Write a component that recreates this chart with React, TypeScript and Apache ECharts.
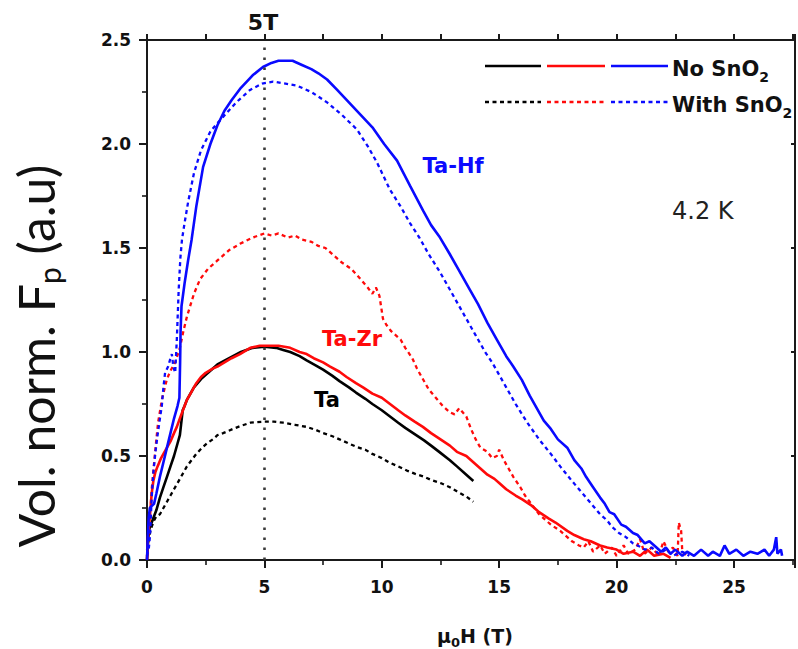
import React, { useEffect, useRef } from 'react';
import * as echarts from 'echarts';

// x-axis tick labels and y tick labels
const xTickValues = [0, 5, 10, 15, 20, 25];
const yTickValues = [0, 0.5, 1.0, 1.5, 2.0, 2.5];

// Ta-Hf, no SnO2 (solid blue)
const hfNo: number[][] = [
  [0, 0], [0.03, 0.1], [0.07, 0.2], [0.12, 0.25], [0.2, 0.26], [0.3, 0.27], [0.4, 0.32], [0.55, 0.4], [0.7, 0.47], [0.85, 0.54],
  [1.0, 0.61], [1.15, 0.68], [1.3, 0.74], [1.38, 0.78], [1.41, 0.95], [1.43, 1.1], [1.47, 1.22], [1.6, 1.33], [1.75, 1.44], [1.9, 1.54],
  [2.1, 1.7], [2.39, 1.89], [2.7, 2.0], [3.0, 2.09], [3.3, 2.16], [3.6, 2.21], [4.0, 2.27], [4.5, 2.33], [4.94, 2.37], [5.3, 2.39],
  [5.6, 2.4], [6.2, 2.4], [6.6, 2.38], [7.0, 2.36], [7.3, 2.34], [7.67, 2.31], [8.1, 2.26], [8.6, 2.2], [9.1, 2.14], [9.6, 2.08],
  [10.1, 2.0], [10.65, 1.92], [11.2, 1.8], [11.76, 1.68], [12.1, 1.61], [12.48, 1.55], [12.9, 1.47], [13.3, 1.39], [13.7, 1.31], [14.1, 1.23],
  [14.5, 1.14], [14.9, 1.06], [15.3, 0.98], [15.6, 0.93], [15.97, 0.865], [16.3, 0.79], [16.6, 0.73], [16.9, 0.67], [17.2, 0.63], [17.5, 0.58],
  [17.9, 0.54], [18.2, 0.48], [18.5, 0.44], [18.7, 0.4], [19.0, 0.35], [19.3, 0.3], [19.5, 0.27], [19.7, 0.23], [19.9, 0.22], [20.2, 0.17],
  [20.4, 0.16], [20.7, 0.13], [20.9, 0.12], [21.2, 0.08], [21.4, 0.09], [21.7, 0.06], [21.9, 0.04], [22.1, 0.06], [22.3, 0.03], [22.5, 0.05],
  [22.8, 0.02], [23.0, 0.04], [23.3, 0.02], [23.6, 0.05], [23.9, 0.02], [24.1, 0.04], [24.4, 0.02], [24.6, 0.07], [24.8, 0.03], [25.1, 0.05],
  [25.4, 0.02], [25.7, 0.04], [26.0, 0.03], [26.3, 0.05], [26.5, 0.02], [26.7, 0.05], [26.8, 0.11], [26.85, 0.03], [27.0, 0.05], [27.05, 0.02],
];

// Ta-Hf, with SnO2 (dashed blue)
const hfWith: number[][] = [
  [0, 0.02], [0.08, 0.06], [0.13, 0.12], [0.2, 0.3], [0.27, 0.42], [0.36, 0.52], [0.45, 0.6], [0.55, 0.68], [0.63, 0.74], [0.7, 0.83],
  [0.77, 0.9], [0.9, 0.93], [1.0, 0.97], [1.06, 0.99], [1.12, 0.93], [1.2, 0.9], [1.27, 1.06], [1.35, 1.3], [1.42, 1.45], [1.49, 1.54],
  [1.6, 1.62], [1.75, 1.72], [2.0, 1.86], [2.3, 1.97], [2.7, 2.06], [3.0, 2.1], [3.24, 2.13], [3.8, 2.2], [4.39, 2.26], [4.9, 2.29],
  [5.37, 2.3], [5.9, 2.29], [6.4, 2.28], [7.0, 2.25], [7.67, 2.2], [8.3, 2.14], [8.94, 2.07], [9.4, 1.99], [9.8, 1.91], [10.35, 1.78],
  [10.8, 1.7], [11.2, 1.62], [11.6, 1.55], [12.0, 1.47], [12.5, 1.38], [13.0, 1.28], [13.5, 1.18], [14.0, 1.08], [14.4, 1.0], [14.7, 0.95],
  [15.0, 0.89], [15.3, 0.83], [15.7, 0.75], [16.2, 0.66], [16.7, 0.58], [17.2, 0.51], [17.6, 0.45], [18.1, 0.38], [18.4, 0.34], [18.7, 0.3],
  [19.0, 0.26], [19.3, 0.22], [19.6, 0.19], [19.8, 0.16], [20.1, 0.13], [20.4, 0.11], [20.7, 0.08], [20.9, 0.07], [21.2, 0.05], [21.5, 0.06],
  [21.8, 0.03], [22.1, 0.05], [22.4, 0.02], [22.8, 0.04], [23.1, 0.02],
];

// Ta-Zr, no SnO2 (solid red)
const zrNo: number[][] = [
  [0, 0], [0.05, 0.12], [0.13, 0.22], [0.2, 0.32], [0.27, 0.38], [0.35, 0.42], [0.45, 0.45], [0.6, 0.49], [0.7, 0.51], [0.85, 0.54],
  [1.0, 0.57], [1.15, 0.61], [1.27, 0.64], [1.4, 0.68], [1.5, 0.71], [1.6, 0.74], [1.7, 0.77], [1.9, 0.81], [2.1, 0.85], [2.3, 0.88],
  [2.5, 0.9], [2.8, 0.92], [3.0, 0.93], [3.3, 0.95], [3.6, 0.97], [3.96, 0.99], [4.4, 1.02], [4.8, 1.03], [5.2, 1.03], [5.6, 1.03],
  [6.1, 1.02], [6.5, 1.0], [6.8, 0.99], [7.1, 0.97], [7.5, 0.95], [7.8, 0.93], [8.2, 0.905], [8.5, 0.88], [8.9, 0.85], [9.2, 0.83],
  [9.6, 0.8], [10.0, 0.78], [10.35, 0.75], [10.7, 0.72], [11.0, 0.695], [11.4, 0.665], [11.75, 0.64], [12.1, 0.61], [12.5, 0.58], [12.9, 0.55],
  [13.2, 0.52], [13.6, 0.5], [13.9, 0.47], [14.2, 0.44], [14.5, 0.41], [14.8, 0.39], [15.0, 0.37], [15.3, 0.34], [15.7, 0.31], [16.0, 0.29],
  [16.4, 0.26], [16.7, 0.23], [17.1, 0.2], [17.4, 0.18], [17.9, 0.14], [18.2, 0.12], [18.6, 0.1], [18.9, 0.09], [19.3, 0.07], [19.6, 0.06],
  [20.0, 0.05], [20.3, 0.03], [20.7, 0.04], [21.0, 0.02], [21.3, 0.05], [21.6, 0.02], [22.0, 0.03], [22.3, 0.01],
];

// Ta-Zr, with SnO2 (dashed red)
const zrWith: number[][] = [
  [0, 0.02], [0.1, 0.15], [0.2, 0.34], [0.33, 0.5], [0.47, 0.66], [0.65, 0.78], [0.85, 0.87], [1.0, 0.91], [1.2, 0.95], [1.4, 1.02],
  [1.55, 1.1], [1.7, 1.17], [2.0, 1.28], [2.26, 1.35], [2.6, 1.4], [3.0, 1.44], [3.5, 1.49], [3.96, 1.52], [4.5, 1.55], [5.0, 1.57],
  [5.3, 1.56], [5.6, 1.57], [6.0, 1.55], [6.3, 1.56], [6.6, 1.54], [7.0, 1.53], [7.3, 1.51], [7.6, 1.5], [7.9, 1.47], [8.3, 1.43],
  [8.7, 1.4], [9.1, 1.35], [9.4, 1.31], [9.6, 1.28], [9.75, 1.31], [9.9, 1.27], [10.05, 1.16], [10.2, 1.13], [10.4, 1.1], [10.6, 1.08],
  [10.8, 1.06], [11.0, 1.02], [11.3, 0.97], [11.5, 0.92], [11.75, 0.87], [12.0, 0.82], [12.3, 0.78], [12.6, 0.74], [12.9, 0.71], [13.1, 0.7],
  [13.3, 0.73], [13.6, 0.69], [13.8, 0.63], [14.0, 0.58], [14.2, 0.54], [14.5, 0.52], [14.7, 0.49], [14.9, 0.5], [15.0, 0.53], [15.2, 0.48],
  [15.4, 0.44], [15.6, 0.4], [15.9, 0.35], [16.1, 0.31], [16.3, 0.28], [16.5, 0.25], [16.7, 0.22], [17.0, 0.19], [17.2, 0.17], [17.6, 0.14],
  [17.9, 0.11], [18.1, 0.09], [18.4, 0.07], [18.6, 0.06], [18.8, 0.09], [19.0, 0.04], [19.3, 0.07], [19.5, 0.03], [19.8, 0.06], [20.0, 0.02],
  [20.3, 0.07], [20.5, 0.03], [20.8, 0.05], [21.0, 0.1], [21.2, 0.03], [21.5, 0.06], [21.8, 0.02], [22.0, 0.09], [22.2, 0.04], [22.4, 0.06],
  [22.6, 0.02], [22.65, 0.18], [22.75, 0.14], [22.8, 0.04], [23.0, 0.02],
];

// Ta, no SnO2 (solid black)
const taNo: number[][] = [
  [0, 0], [0.05, 0.1], [0.1, 0.15], [0.2, 0.18], [0.3, 0.21], [0.4, 0.24], [0.55, 0.3], [0.7, 0.35], [0.85, 0.4], [1.0, 0.45],
  [1.15, 0.5], [1.3, 0.56], [1.4, 0.6], [1.45, 0.65], [1.52, 0.72], [1.6, 0.74], [1.7, 0.77], [1.85, 0.8], [2.0, 0.83], [2.3, 0.87],
  [2.6, 0.9], [3.0, 0.94], [3.5, 0.97], [4.0, 1.0], [4.5, 1.02], [5.0, 1.025], [5.5, 1.02], [5.8, 1.01], [6.1, 1.0], [6.5, 0.98],
  [6.8, 0.96], [7.2, 0.935], [7.5, 0.915], [7.9, 0.885], [8.2, 0.86], [8.6, 0.83], [8.9, 0.805], [9.3, 0.775], [9.6, 0.75], [10.0, 0.72],
  [10.35, 0.69], [10.7, 0.66], [11.0, 0.635], [11.4, 0.605], [11.8, 0.575], [12.1, 0.55], [12.5, 0.515], [12.9, 0.48], [13.2, 0.45], [13.6, 0.41],
  [13.9, 0.38],
];

// Ta, with SnO2 (dashed black)
const taWith: number[][] = [
  [0, 0.05], [0.1, 0.12], [0.2, 0.16], [0.3, 0.19], [0.4, 0.21], [0.55, 0.22], [0.7, 0.25], [0.85, 0.28], [1.0, 0.31], [1.15, 0.34],
  [1.3, 0.37], [1.45, 0.4], [1.55, 0.42], [1.7, 0.45], [1.83, 0.47], [2.1, 0.51], [2.35, 0.54], [2.55, 0.56], [2.8, 0.58], [3.0, 0.6],
  [3.24, 0.61], [3.66, 0.63], [4.0, 0.645], [4.4, 0.66], [5.0, 0.665], [5.4, 0.665], [5.8, 0.66], [6.3, 0.65], [6.8, 0.64], [7.2, 0.625],
  [7.5, 0.61], [7.9, 0.595], [8.2, 0.58], [8.6, 0.56], [8.9, 0.545], [9.3, 0.53], [9.6, 0.51], [10.0, 0.49], [10.3, 0.47], [10.7, 0.45],
  [11.07, 0.43], [11.4, 0.415], [11.8, 0.4], [12.1, 0.385], [12.5, 0.37], [12.9, 0.35], [13.2, 0.33], [13.6, 0.305], [13.9, 0.28],
];

const BLUE = '#0a0aff';
const RED = '#ff0a0a';
const BLACK = '#000000';
const AXIS = '#1a1a1a';
const FB = 'DejaVu Sans';
const DASH = [4, 3.5];

function lineSeries(name: string, data: number[][], color: string, dashed: boolean, extra: any = {}) {
  return {
    name,
    type: 'line',
    data,
    xAxisIndex: 0,
    yAxisIndex: 0,
    showSymbol: false,
    symbol: 'none',
    smooth: false,
    silent: true,
    lineStyle: { color, width: dashed ? 2.3 : 2.6, type: dashed ? DASH : 'solid' },
    emphasis: { disabled: true },
    ...extra,
  };
}

function subRich(size: number, subSize: number, lh: number, color: string, bold: boolean, family: string) {
  return {
    m: { fontFamily: family, fontWeight: bold ? 'bold' : 'normal', fontSize: size, fill: color, lineHeight: lh, verticalAlign: 'middle' },
    s: { fontFamily: family, fontWeight: bold ? 'bold' : 'normal', fontSize: subSize, fill: color, lineHeight: subSize, verticalAlign: 'bottom' },
  };
}

export default function App() {
  const ref = useRef<HTMLDivElement>(null);
  useEffect(() => {
    const chart = echarts.init(ref.current!, null, { renderer: 'svg' });
    const legendLine = (x1: number, x2: number, y: number, color: string, dashed: boolean) => ({
      type: 'line',
      shape: { x1, y1: y, x2, y2: y },
      style: { stroke: color, lineWidth: 2.6, lineDash: dashed ? DASH : null },
      silent: true,
    });
    const option: any = {
      animation: false,
      backgroundColor: '#ffffff',
      grid: { left: 147, right: 3, top: 40, bottom: 89, containLabel: false },
      xAxis: [
        {
          type: 'value', min: 0, max: 27.6, interval: 5, position: 'bottom',
          axisLine: { show: true, onZero: false, lineStyle: { color: AXIS, width: 2 } },
          axisTick: { show: true, inside: false, length: 8, lineStyle: { color: AXIS, width: 2 } },
          minorTick: { show: true, splitNumber: 2, length: 5, lineStyle: { color: AXIS, width: 1.6 } },
          axisLabel: {
            margin: 18, fontFamily: FB, fontWeight: 'bold', fontSize: 17, color: '#111',
            formatter: (v: number) => (xTickValues.indexOf(v) >= 0 ? String(v) : ''),
          },
          splitLine: { show: false },
        },
        {
          type: 'value', min: 0, max: 27.6, interval: 2.5, position: 'top',
          axisLine: { show: true, onZero: false, lineStyle: { color: AXIS, width: 2 } },
          axisTick: { show: true, inside: false, length: 6, lineStyle: { color: AXIS, width: 2 } },
          axisLabel: { show: false },
          splitLine: { show: false },
        },
      ],
      yAxis: [
        {
          type: 'value', min: 0, max: 2.5, interval: 0.5, position: 'left',
          axisLine: { show: true, onZero: false, lineStyle: { color: AXIS, width: 2 } },
          axisTick: { show: true, inside: false, length: 8, lineStyle: { color: AXIS, width: 2 } },
          minorTick: { show: true, splitNumber: 2, length: 5, lineStyle: { color: AXIS, width: 1.6 } },
          axisLabel: {
            margin: 16, fontFamily: FB, fontWeight: 'bold', fontSize: 17, color: '#111',
            formatter: (v: number) => {
              const hit = yTickValues.find((t) => Math.abs(t - v) < 1e-6);
              return hit === undefined ? '' : hit.toFixed(1);
            },
          },
          splitLine: { show: false },
        },
        {
          type: 'value', min: 0, max: 2.5, interval: 0.5, position: 'right',
          axisLine: { show: true, onZero: false, lineStyle: { color: AXIS, width: 2 } },
          axisTick: { show: true, inside: true, length: 4, lineStyle: { color: AXIS, width: 2 } },
          axisLabel: { show: false },
          splitLine: { show: false },
        },
      ],
      series: [
        lineSeries('Ta with', taWith, BLACK, true, {
          markLine: {
            silent: true,
            symbol: ['none', 'none'],
            label: { show: false },
            lineStyle: { type: [2.5, 7.5], color: '#3a3a3a', width: 2.6 },
            data: [{ xAxis: 5 }],
          },
        }),
        lineSeries('Ta no', taNo, BLACK, false),
        lineSeries('Ta-Zr with', zrWith, RED, true),
        lineSeries('Ta-Zr no', zrNo, RED, false),
        lineSeries('Ta-Hf with', hfWith, BLUE, true),
        lineSeries('Ta-Hf no', hfNo, BLUE, false),
      ],
      graphic: [
        legendLine(485, 541, 66, BLACK, false),
        legendLine(547, 605, 66, RED, false),
        legendLine(611, 668, 66, BLUE, false),
        legendLine(485, 541, 102, BLACK, true),
        legendLine(547, 605, 102, RED, true),
        legendLine(611, 668, 102, BLUE, true),
        {
          type: 'text', x: 672, y: 69, silent: true,
          style: {
            text: '{m|No SnO}{s|2}', align: 'left', verticalAlign: 'middle',
            rich: subRich(21, 14, 30, '#111', true, FB),
          },
        },
        {
          type: 'text', x: 672, y: 105, silent: true,
          style: {
            text: '{m|With SnO}{s|2}', align: 'left', verticalAlign: 'middle',
            rich: subRich(21, 14, 30, '#111', true, FB),
          },
        },
        {
          type: 'text', x: 263, y: 22, silent: true,
          style: { text: '5T', fontFamily: FB, fontWeight: 'bold', fontSize: 22, fill: '#111', align: 'center', verticalAlign: 'middle' },
        },
        {
          type: 'text', x: 453, y: 166, silent: true,
          style: { text: 'Ta-Hf', fontFamily: FB, fontWeight: 'bold', fontSize: 21, fill: BLUE, align: 'center', verticalAlign: 'middle' },
        },
        {
          type: 'text', x: 352, y: 339, silent: true,
          style: { text: 'Ta-Zr', fontFamily: FB, fontWeight: 'bold', fontSize: 21, fill: RED, align: 'center', verticalAlign: 'middle' },
        },
        {
          type: 'text', x: 327, y: 400, silent: true,
          style: { text: 'Ta', fontFamily: FB, fontWeight: 'bold', fontSize: 21, fill: BLACK, align: 'center', verticalAlign: 'middle' },
        },
        {
          type: 'text', x: 672, y: 211, silent: true,
          style: { text: '4.2 K', fontFamily: FB, fontSize: 24, fill: '#222', align: 'left', verticalAlign: 'middle' },
        },
        {
          type: 'text', x: 475, y: 636, silent: true,
          style: {
            text: '{m|μ}{s|0}{m|H (T)}', align: 'center', verticalAlign: 'middle',
            rich: subRich(19, 13, 26, '#111', true, FB),
          },
        },
        {
          type: 'text', x: 36, y: 356, rotation: Math.PI / 2, silent: true,
          style: {
            text: '{m|Vol. norm. F}{s|p}{m| (a.u)}',
            align: 'center', verticalAlign: 'middle',
            rich: {
              m: { fontFamily: 'Lato', fontSize: 50, fill: '#111', lineHeight: 56, verticalAlign: 'middle' },
              s: { fontFamily: 'Lato', fontSize: 30, fill: '#111', lineHeight: 30, verticalAlign: 'bottom' },
            },
          },
        },
      ],
    };
    chart.setOption(option);
    return () => chart.dispose();
  }, []);
  return (
    <div
      ref={ref}
      style={{ position: 'fixed', left: 0, top: 0, width: 798, height: 649, background: '#ffffff' }}
    />
  );
}
